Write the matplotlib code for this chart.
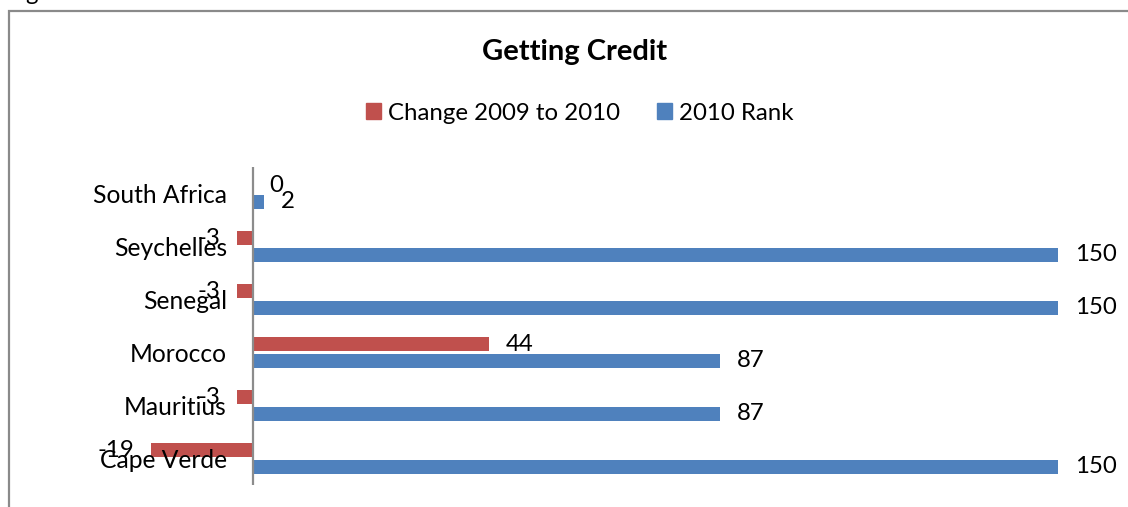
import matplotlib
matplotlib.use("Agg")
import matplotlib.pyplot as plt
from matplotlib.patches import Patch, Rectangle

plt.rcParams['font.family'] = ['Lato', 'DejaVu Sans']

# bottom-to-top order, as the category axis shows them
countries = ['Cape Verde', 'Mauritius', 'Morocco', 'Senegal', 'Seychelles', 'South Africa']
change_2009_2010 = [-19, -3, 44, -3, -3, 0]
rank_2010 = [150, 87, 87, 150, 150, 2]

RED = '#C0504D'
BLUE = '#4F81BD'
W, H = 1128, 507
FS = 17.3

fig = plt.figure(figsize=(W / 100, H / 100), dpi=100)

# plot area placed in pixels
ax = fig.add_axes([100 / W, (H - 485) / H, 1000 / W, 318 / H])

pos = list(range(len(countries)))
bh = 0.255
off = 0.16
red_bars = ax.barh([p + off for p in pos], change_2009_2010, height=bh, color=RED,
                   label='Change 2009 to 2010')
blue_bars = ax.barh([p - off for p in pos], rank_2010, height=bh, color=BLUE,
                    label='2010 Rank')

ax.bar_label(red_bars, labels=[str(v) for v in change_2009_2010], padding=12, fontsize=FS)
ax.bar_label(blue_bars, labels=[str(v) for v in rank_2010], padding=12, fontsize=FS)

ax.set_xlim(-28.5, 157.8)
ax.set_ylim(-0.5, len(countries) - 0.5)
ax.axvline(0, color='#8c8c8c', lw=1.6, zorder=3)

ax.set_yticks(pos)
ax.set_yticklabels(countries, fontsize=FS + 0.4)
ax.tick_params(axis='y', length=0, pad=0)
for lbl in ax.get_yticklabels():
    lbl.set_x((227 - 100) / 1000)
    lbl.set_horizontalalignment('right')
ax.set_xticks([])
for s in ax.spines.values():
    s.set_visible(False)
ax.patch.set_visible(False)

# chart title and legend
fig.text(575 / W, (H - 52) / H, 'Getting Credit', fontsize=21, fontweight='bold',
         ha='center', va='center')
handles = [Patch(color=RED, label='Change 2009 to 2010'),
           Patch(color=BLUE, label='2010 Rank')]
fig.legend(handles=handles, loc='center', bbox_to_anchor=(580 / W, (H - 113) / H),
           ncol=2, frameon=False, fontsize=FS, handlelength=0.62, handleheight=0.62,
           handletextpad=0.3, columnspacing=1.55, borderpad=0)

# chart border
fig.add_artist(Rectangle((9 / W, -0.1), 2, (H - 11) / H + 0.1, transform=fig.transFigure,
                         fill=False, edgecolor='#8a8a8a', lw=1.6))
fig.text(25 / W, 1.0, 'g', fontsize=FS, ha='left', va='baseline')

fig.savefig('out.png', dpi=100)
